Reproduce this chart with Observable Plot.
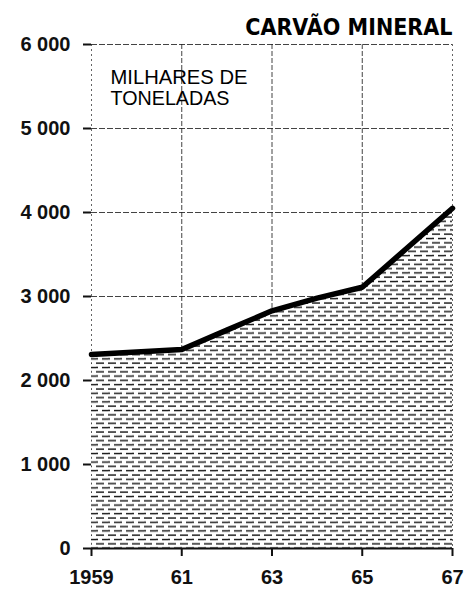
<!DOCTYPE html>
<html>
<head>
<meta charset="utf-8">
<script src="https://cdn.jsdelivr.net/npm/d3@7"></script>
<script src="https://cdn.jsdelivr.net/npm/@observablehq/plot@0.6"></script>
<style>
  html, body { margin: 0; padding: 0; background: #fff; }
  #chart { width: 465px; height: 598px; }
</style>
</head>
<body>
<div id="chart"></div>
<script>
const years = [1959, 1960, 1961, 1962, 1963, 1964, 1965, 1966, 1967];
const production = [2310, 2340, 2370, 2600, 2830, 2980, 3110, 3580, 4050];
const yTicks = [0, 1000, 2000, 3000, 4000, 5000, 6000];
const xTicks = [1959, 1961, 1963, 1965, 1967];
const xTickLabels = ["1959", "61", "63", "65", "67"];
const title = "CARVÃO MINERAL";
const unitLine1 = "MILHARES DE";
const unitLine2 = "TONELADAS";

const data = years.map((y, i) => ({year: y, value: production[i]}));
const fmtY = d => d === 0 ? "0" : d3.format(",")(d).replace(",", " ");
const fmtX = d => xTickLabels[xTicks.indexOf(d)];

const svg = Plot.plot({
  width: 465,
  height: 598,
  marginTop: 44,
  marginBottom: 50,
  marginLeft: 91,
  marginRight: 13,
  style: {fontFamily: "'Liberation Sans', Arial, sans-serif", background: "#fff"},
  x: {domain: [1959, 1967], ticks: xTicks, tickFormat: fmtX, label: null},
  y: {domain: [0, 6000], ticks: yTicks, tickFormat: fmtY, label: null},
  marks: [
    Plot.gridY(yTicks.filter(d => d > 0), {stroke: "#222", strokeOpacity: 0.85, strokeWidth: 1, strokeDasharray: "6,2"}),
    Plot.gridX([1961, 1963, 1965], {stroke: "#222", strokeOpacity: 0.85, strokeWidth: 1, strokeDasharray: "5,2"}),
    Plot.ruleX([1959, 1967], {stroke: "#222", strokeOpacity: 0.7, strokeWidth: 1, strokeDasharray: "2,3"}),
    Plot.areaY(data, {x: "year", y: "value", fill: "url(#hatch)"}),
    Plot.ruleY([0], {stroke: "#111", strokeWidth: 2.2}),
    Plot.lineY(data, {x: "year", y: "value", stroke: "#000", strokeWidth: 5.5, strokeLinejoin: "round"}),
    Plot.axisY(yTicks, {tickSize: 8, tickPadding: 13, tickFormat: fmtY, fontSize: 20, fontWeight: "bold", stroke: "#111", strokeWidth: 2, fill: "#111"}),
    Plot.axisX(xTicks, {tickSize: 8, tickPadding: 13, tickFormat: fmtX, fontSize: 20, fontWeight: "bold", stroke: "#111", strokeWidth: 2, fill: "#111"}),
    Plot.text([title], {frameAnchor: "top-right", dy: -10, dx: 0, textAnchor: "end", lineAnchor: "bottom", fontSize: 23, fontWeight: "bold", fontFamily: "'DejaVu Sans Condensed', sans-serif", fill: "#000"}),
    Plot.text([unitLine1], {frameAnchor: "top-left", dx: 19, dy: 39, lineAnchor: "bottom", textAnchor: "start", fontSize: 21, fill: "#000"}),
    Plot.text([unitLine2], {frameAnchor: "top-left", dx: 19, dy: 60, lineAnchor: "bottom", textAnchor: "start", fontSize: 21, fill: "#000"})
  ]
});

const defs = document.createElementNS("http://www.w3.org/2000/svg", "defs");
defs.innerHTML = `
<pattern id="hatch" patternUnits="userSpaceOnUse" width="12" height="8.6">
  <rect width="12" height="8.6" fill="#fff"/>
  <line x1="0" x2="8" y1="2" y2="2" stroke="#111" stroke-width="1.4"/>
  <line x1="6" x2="12" y1="6.3" y2="6.3" stroke="#111" stroke-width="1.4"/>
  <line x1="0" x2="2" y1="6.3" y2="6.3" stroke="#111" stroke-width="1.4"/>
</pattern>`;
svg.insertBefore(defs, svg.firstChild);
document.getElementById("chart").appendChild(svg);

// match printed widths of the unit label lines
const widths = {[unitLine1]: 137, [unitLine2]: 119};
svg.querySelectorAll("text").forEach(t => {
  const w = widths[t.textContent];
  if (w) { t.setAttribute("textLength", w); t.setAttribute("lengthAdjust", "spacingAndGlyphs"); }
});
</script>
</body>
</html>
